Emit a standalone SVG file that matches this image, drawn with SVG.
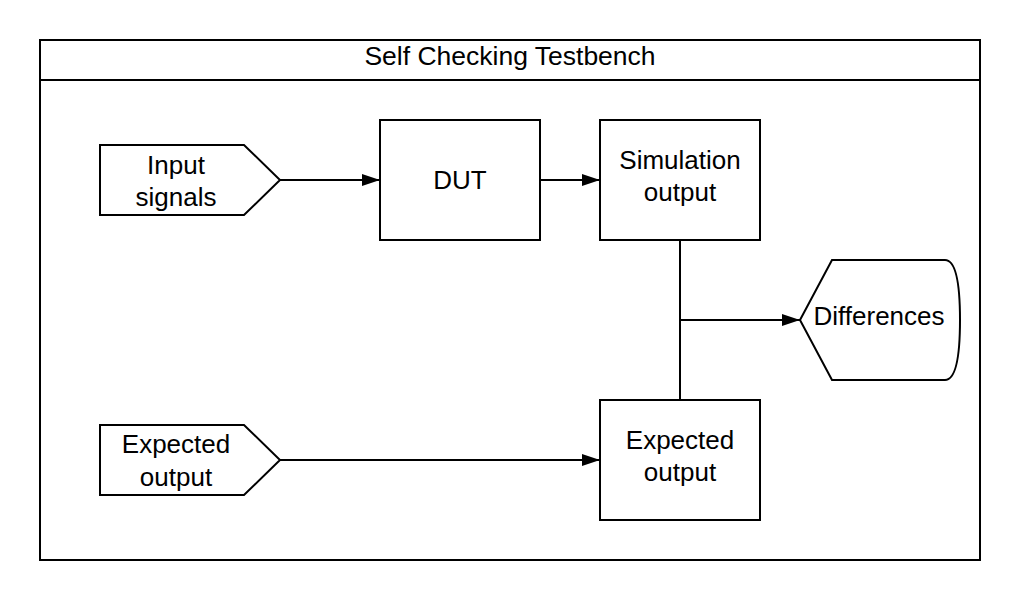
<svg xmlns="http://www.w3.org/2000/svg" width="1020" height="600" viewBox="0 0 1020 600">
<defs>
<style>
.s{fill:#fff;stroke:#000;stroke-width:2}
.t{font-family:"Liberation Sans",Arial,sans-serif;font-size:26px;fill:#000;text-anchor:middle}
.c{fill:none;stroke:#000;stroke-width:2}
</style>
<marker id="a" viewBox="0 0 18 12" refX="18" refY="6" markerWidth="18" markerHeight="12" markerUnits="userSpaceOnUse" orient="auto">
<path d="M0,0 L18,6 L0,12 Z" fill="#000"/>
</marker>
</defs>
<rect width="1020" height="600" fill="#fff"/>
<g id="frame">
<rect class="s" x="40" y="40" width="940" height="520"/>
<line class="c" x1="40" y1="80" x2="980" y2="80"/>
<text class="t" x="510" y="65" style="font-size:26.5px">Self Checking Testbench</text>
</g>
<g id="connectors">
<line class="c" x1="280" y1="180" x2="380" y2="180" marker-end="url(#a)"/>
<line class="c" x1="540" y1="180" x2="600" y2="180" marker-end="url(#a)"/>
<line class="c" x1="280" y1="460" x2="600" y2="460" marker-end="url(#a)"/>
<line class="c" x1="680" y1="240" x2="680" y2="400"/>
<line class="c" x1="680" y1="320" x2="800" y2="320" marker-end="url(#a)"/>
</g>
<g id="input-signals">
<path class="s" d="M100,145 L244,145 L280,180 L244,215 L100,215 Z"/>
<text class="t" x="176" y="174">Input</text>
<text class="t" x="176" y="206">signals</text>
</g>
<g id="dut">
<rect class="s" x="380" y="120" width="160" height="120"/>
<text class="t" x="460" y="189">DUT</text>
</g>
<g id="simulation-output">
<rect class="s" x="600" y="120" width="160" height="120"/>
<text class="t" x="680" y="169">Simulation</text>
<text class="t" x="680" y="201">output</text>
</g>
<g id="differences">
<path class="s" d="M800,320 L832,260 L945,260 Q960,260 960,320 Q960,380 945,380 L832,380 Z"/>
<text class="t" x="879" y="325">Differences</text>
</g>
<g id="expected-output-input">
<path class="s" d="M100,425 L244,425 L280,460 L244,495 L100,495 Z"/>
<text class="t" x="176" y="453">Expected</text>
<text class="t" x="176" y="486">output</text>
</g>
<g id="expected-output">
<rect class="s" x="600" y="400" width="160" height="120"/>
<text class="t" x="680" y="449">Expected</text>
<text class="t" x="680" y="481">output</text>
</g>
</svg>
